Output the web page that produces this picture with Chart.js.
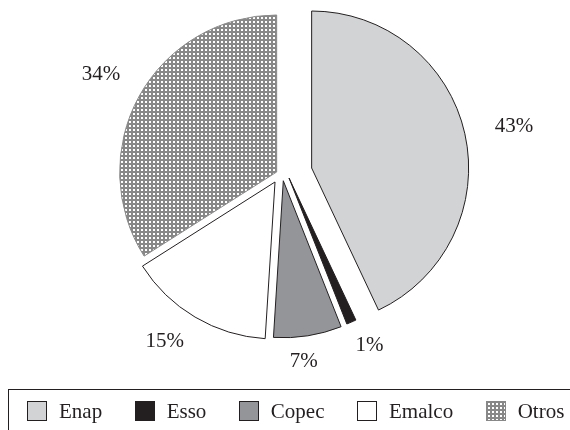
<!DOCTYPE html>
<html>
<head>
<meta charset="utf-8">
<script src="https://cdn.jsdelivr.net/npm/chart.js@4.4.1/dist/chart.umd.min.js"></script>
<style>
  html, body { margin: 0; padding: 0; background: #ffffff; }
  #wrap { position: relative; width: 570px; height: 430px; overflow: hidden; }
  #pie { position: absolute; left: 0; top: 0; }
  #legend {
    position: absolute; left: 8px; top: 389px; width: 640px; height: 80px;
    border: 1px solid #231f20; box-sizing: border-box;
    padding: 11px 0 0 18px;
    display: flex; align-items: flex-start;
    font-family: "Liberation Serif", "Times New Roman", serif; font-size: 21px; color: #231f20;
  }
  .item { display: flex; align-items: center; height: 20px; margin-right: 32.5px; white-space: nowrap; }
  .sw { width: 20px; height: 20px; box-sizing: border-box; border: 1px solid #231f20; margin-right: 12px; flex: none; }
  .txt { line-height: 20px; }
</style>
</head>
<body>
<div id="wrap">
  <canvas id="pie" width="570" height="430"></canvas>
  <div id="legend"></div>
</div>
<script>
// ---- data ----
const categories = ['Enap', 'Esso', 'Copec', 'Emalco', 'Otros'];
const shares = [43, 1, 7, 15, 34];

// ---- styles ----
const sliceColors = ['#d1d3d4', '#231f20', '#939598', '#ffffff', 'pattern'];
const sliceBorders = ['#231f20', '#231f20', '#231f20', '#231f20', '#8a8a8a'];
const explodeDist = [30.1, 7.0, 5.3, 9.9, 6.8];        // px
const explodeDir = [75.6, 111, 171.3, 229.1, 301];     // deg, clockwise from 12 o'clock
const labelRadius = [236.8, 189.6, 185.7, 202.6, 208.4];
const labelAngleShift = [0.4, -3.9, 2.4, 4.9, 0.7];
const labelFont = '21px "Liberation Serif", "Times New Roman", serif';
const inkColor = '#231f20';

function makePatternTile() {
  const c = document.createElement('canvas');
  c.width = 4; c.height = 4;
  const g = c.getContext('2d');
  g.fillStyle = '#888888';
  g.fillRect(0, 0, 4, 4);
  g.fillStyle = '#ffffff';
  g.fillRect(1, 1, 2, 2);
  return c;
}
const tile = makePatternTile();
const canvas = document.getElementById('pie');
const ctx = canvas.getContext('2d');
const pattern = ctx.createPattern(tile, 'repeat');
const fills = sliceColors.map(c => c === 'pattern' ? pattern : c);

const explodePlugin = {
  id: 'explode',
  afterDatasetsUpdate(chart) {
    const meta = chart.getDatasetMeta(0);
    meta.data.forEach((arc, i) => {
      const a = explodeDir[i] * Math.PI / 180;
      arc.x += explodeDist[i] * Math.sin(a);
      arc.y -= explodeDist[i] * Math.cos(a);
    });
  }
};

const labelPlugin = {
  id: 'pctLabels',
  afterDatasetsDraw(chart) {
    const {ctx, chartArea} = chart;
    const cx = (chartArea.left + chartArea.right) / 2;
    const cy = (chartArea.top + chartArea.bottom) / 2;
    const meta = chart.getDatasetMeta(0);
    ctx.save();
    ctx.font = labelFont;
    ctx.fillStyle = inkColor;
    ctx.textAlign = 'center';
    ctx.textBaseline = 'alphabetic';
    meta.data.forEach((arc, i) => {
      const mid = (arc.startAngle + arc.endAngle) / 2;
      const a = (mid * 180 / Math.PI + 90 + labelAngleShift[i]) * Math.PI / 180;
      const x = cx + labelRadius[i] * Math.sin(a);
      const y = cy - labelRadius[i] * Math.cos(a);
      ctx.fillText(shares[i] + '%', x, y + 7);
    });
    ctx.restore();
  }
};

new Chart(ctx, {
  type: 'pie',
  data: {
    labels: categories,
    datasets: [{
      data: shares,
      backgroundColor: fills,
      borderColor: sliceBorders,
      borderWidth: 1
    }]
  },
  options: {
    responsive: false,
    animation: false,
    radius: 157,
    layout: { padding: { left: 0, right: 5, top: 0, bottom: 79 } },
    plugins: {
      legend: { display: false },
      tooltip: { enabled: false }
    },
    events: []
  },
  plugins: [explodePlugin, labelPlugin]
});

// HTML legend
const legend = document.getElementById('legend');
const tileURL = tile.toDataURL();
categories.forEach((name, i) => {
  const item = document.createElement('div');
  item.className = 'item';
  const sw = document.createElement('span');
  sw.className = 'sw';
  if (sliceColors[i] === 'pattern') {
    sw.style.backgroundImage = 'url(' + tileURL + ')';
    sw.style.borderColor = '#888888';
  } else {
    sw.style.background = sliceColors[i];
  }
  const t = document.createElement('span');
  t.className = 'txt';
  t.textContent = name;
  item.appendChild(sw);
  item.appendChild(t);
  legend.appendChild(item);
});
</script>
</body>
</html>
